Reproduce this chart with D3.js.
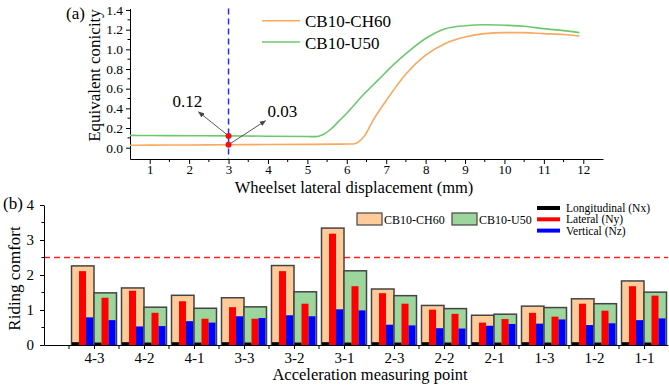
<!DOCTYPE html>
<html>
<head>
<meta charset="utf-8">
<script src="https://cdn.jsdelivr.net/npm/d3@7"></script>
<style>
  body { margin: 0; background: #fff; }
  .axis path, .axis line { stroke: #000; stroke-width: 1; }
  .axis text { fill: #000; }
</style>
</head>
<body>
<svg id="chart" width="669" height="386"></svg>
<script>
// ---------- Data (a) ----------
const ch60X = [0.5, 1, 2, 3, 4, 5, 5.8, 6.1, 6.2, 6.3, 6.45, 6.67, 7.0, 7.5, 8.0, 8.5, 9.0, 9.5, 10.0, 10.5, 11.0, 11.5, 11.9];
const ch60Y = [0.025, 0.026, 0.028, 0.03, 0.032, 0.034, 0.036, 0.037, 0.04, 0.06, 0.12, 0.28, 0.48, 0.75, 0.94, 1.06, 1.125, 1.16, 1.17, 1.17, 1.16, 1.15, 1.135];
const u50X = [0.5, 1, 2, 3, 4, 5, 5.2, 5.4, 5.6, 5.8, 6.0, 6.4, 6.8, 7.2, 7.6, 8.0, 8.5, 9.0, 9.5, 10.0, 10.5, 11.0, 11.5, 11.9];
const u50Y = [0.125, 0.124, 0.122, 0.12, 0.117, 0.113, 0.112, 0.135, 0.19, 0.27, 0.35, 0.53, 0.69, 0.85, 0.99, 1.11, 1.21, 1.24, 1.25, 1.245, 1.235, 1.21, 1.19, 1.17];
const topSeriesNames = ["CB10-CH60", "CB10-U50"];
const markX = 3;
const markValues = [0.12, 0.03];
const topXTicks = [1,2,3,4,5,6,7,8,9,10,11,12];
const topYTicks = [0.0,0.2,0.4,0.6,0.8,1.0,1.2,1.4];

// ---------- Data (b) ----------
const points = ["4-3","4-2","4-1","3-3","3-2","3-1","2-3","2-2","2-1","1-3","1-2","1-1"];
const ch60Total = [2.26, 1.63, 1.42, 1.35, 2.27, 3.34, 1.60, 1.13, 0.85, 1.11, 1.32, 1.83];
const ch60Nx    = [0.08, 0.08, 0.08, 0.08, 0.08, 0.08, 0.08, 0.08, 0.08, 0.08, 0.08, 0.08];
const ch60Ny    = [2.11, 1.55, 1.25, 1.08, 2.11, 3.18, 1.48, 1.01, 0.64, 0.92, 1.18, 1.68];
const ch60Nz    = [0.79, 0.53, 0.68, 0.82, 0.85, 1.02, 0.58, 0.48, 0.55, 0.61, 0.57, 0.71];
const u50Total  = [1.49, 1.08, 1.05, 1.09, 1.52, 2.12, 1.41, 1.04, 0.88, 1.07, 1.18, 1.51];
const u50Nx     = [0.07, 0.07, 0.07, 0.07, 0.07, 0.07, 0.07, 0.07, 0.07, 0.07, 0.07, 0.07];
const u50Ny     = [1.35, 0.92, 0.75, 0.75, 1.18, 1.68, 1.18, 0.89, 0.74, 0.81, 0.98, 1.41];
const u50Nz     = [0.71, 0.54, 0.64, 0.77, 0.82, 0.99, 0.56, 0.47, 0.60, 0.73, 0.62, 0.76];
const limitValue = 2.5;
const bottomYTicks = [0,1,2,3,4];
const dirNames = ["Longitudinal (Nx)", "Lateral (Ny)", "Vertical (Nz)"];

// ---------- Styles ----------
const FONT = "'Liberation Serif', 'Times New Roman', Times, 'DejaVu Serif', serif";
const orangeLine = "#F9A85E", greenLine = "#6DC86D";
const orangeFill = "#FFCC99", greenFill = "#9DD69D";
const dirColors = ["#000000", "#FF0000", "#0000FF"];

const svg = d3.select("#chart");

// ================= (a) =================
const xT = d3.scaleLinear().domain([0.5, 12.5]).range([130, 603]);
const yT = d3.scaleLinear().domain([-0.115, 1.415]).range([159, 8.5]);

const gxT = svg.append("g").attr("class","axis").attr("transform","translate(0,159)")
  .call(d3.axisBottom(xT).tickValues(topXTicks).tickSize(5).tickSizeOuter(0).tickPadding(1).tickFormat(d3.format("d")));
gxT.selectAll("text").style("font-size","13px");
gxT.selectAll(".minor").data(d3.range(1.5, 12.5, 1)).enter().append("line")
  .attr("x1", d => xT(d)).attr("x2", d => xT(d)).attr("y1", 0).attr("y2", 3).attr("stroke","#000");

const gyT = svg.append("g").attr("class","axis").attr("transform","translate(130,0)")
  .call(d3.axisLeft(yT).tickValues(topYTicks).tickSize(4).tickSizeOuter(0).tickPadding(3).tickFormat(d3.format(".1f")));
gyT.selectAll("text").style("font-size","13.5px");
gyT.selectAll(".minor").data(d3.range(0.1, 1.4, 0.2)).enter().append("line")
  .attr("x1", -2.5).attr("x2", 0).attr("y1", d => yT(d)).attr("y2", d => yT(d)).attr("stroke","#000");

const lineT = d3.line().x(d => xT(d[0])).y(d => yT(d[1])).curve(d3.curveMonotoneX);
svg.append("path").datum(ch60X.map((x,i)=>[x, ch60Y[i]])).attr("d", lineT)
  .attr("fill","none").attr("stroke", orangeLine).attr("stroke-width", 1.6);
svg.append("path").datum(u50X.map((x,i)=>[x, u50Y[i]])).attr("d", lineT)
  .attr("fill","none").attr("stroke", greenLine).attr("stroke-width", 1.6);

// vertical dashed line
svg.append("line").attr("x1", xT(markX)).attr("x2", xT(markX))
  .attr("y1", yT(1.415)).attr("y2", yT(-0.115))
  .attr("stroke", "#2A2AF0").attr("stroke-width", 1.5).attr("stroke-dasharray", "6,4");

// arrows
const defs = svg.append("defs");
defs.append("marker").attr("id","arr").attr("viewBox","0 0 10 10").attr("refX",9).attr("refY",5)
  .attr("markerWidth",7).attr("markerHeight",7).attr("orient","auto")
  .append("path").attr("d","M0,1 L10,5 L0,9 Z").attr("fill","#444");

const annOffsets = [[-30, -24], [37, -24]];
const annText = [[-56, -29], [39, -28]];
markValues.forEach((v, i) => {
  const px = xT(markX), py = yT(v);
  svg.append("line").attr("x1", px).attr("y1", py)
    .attr("x2", px + annOffsets[i][0]).attr("y2", py + annOffsets[i][1])
    .attr("stroke", "#444").attr("stroke-width", 0.9).attr("marker-end", "url(#arr)");
  svg.append("text").attr("x", px + annText[i][0]).attr("y", py + annText[i][1])
    .style("font-size","17px").text(d3.format(".2f")(v));
});
svg.selectAll(".pt").data(markValues).enter().append("circle")
  .attr("cx", xT(markX)).attr("cy", d => yT(d)).attr("r", 3).attr("fill", "#F01010");

// legend (a)
[[orangeLine, 20.7], [greenLine, 42]].forEach((c, i) => {
  svg.append("line").attr("x1", 262).attr("x2", 300).attr("y1", c[1]).attr("y2", c[1])
    .attr("stroke", c[0]).attr("stroke-width", 1.6);
  svg.append("text").attr("x", 305).attr("y", c[1] + 6.5).style("font-size","17px").text(topSeriesNames[i]);
});

svg.append("text").attr("transform","translate(99.5,75.5) rotate(-90)").attr("text-anchor","middle")
  .style("font-size","17px").text("Equivalent conicity");
svg.append("text").attr("x", 354).attr("y", 192.5).attr("text-anchor","middle")
  .style("font-size","16.5px").text("Wheelset lateral displacement (mm)");
svg.append("text").attr("x", 66).attr("y", 19).style("font-size","17px").text("(a)");

// ================= (b) =================
const xB = d3.scaleLinear().domain([-1, 11.48]).range([44, 668]);
const yB = d3.scaleLinear().domain([0, 4]).range([345, 205]);

// limit line
svg.append("line").attr("x1", xB(-1)).attr("x2", xB(11.48)).attr("y1", yB(limitValue)).attr("y2", yB(limitValue))
  .attr("stroke", "#FF2020").attr("stroke-width", 1.3).attr("stroke-dasharray", "6,4");

const groups = [
  {off: -0.45, fill: orangeFill, total: ch60Total, parts: [ch60Nx, ch60Ny, ch60Nz]},
  {off: 0, fill: greenFill, total: u50Total, parts: [u50Nx, u50Ny, u50Nz]}
];
const bw = 0.45, iw = 0.14, ioff = 0.01;
groups.forEach(g => {
  svg.append("g").selectAll("rect").data(points.map((p,i)=>i)).enter().append("rect")
    .attr("x", i => xB(i + g.off)).attr("width", xB(bw) - xB(0))
    .attr("y", i => yB(g.total[i])).attr("height", i => yB(0) - yB(g.total[i]))
    .attr("fill", g.fill).attr("stroke", "#444").attr("stroke-width", 1.5);
  g.parts.forEach((vals, k) => {
    svg.append("g").selectAll("rect").data(points.map((p,i)=>i)).enter().append("rect")
      .attr("x", i => xB(i + g.off + ioff + k*iw)).attr("width", xB(iw) - xB(0))
      .attr("y", i => yB(vals[i])).attr("height", i => yB(0) - yB(vals[i]))
      .attr("fill", dirColors[k]);
  });
});

const gxB = svg.append("g").attr("class","axis").attr("transform","translate(0,345)")
  .call(d3.axisBottom(xB).tickValues(d3.range(0, 12)).tickSize(4).tickSizeOuter(0).tickPadding(3)
    .tickFormat(i => points[i]));
gxB.selectAll("text").style("font-size","15px");
gxB.selectAll(".minor").data(d3.range(-0.5, 11.5, 1)).enter().append("line")
  .attr("x1", d => xB(d)).attr("x2", d => xB(d)).attr("y1", 0).attr("y2", 4).attr("stroke","#000");

const gyB = svg.append("g").attr("class","axis").attr("transform","translate(44,0)")
  .call(d3.axisLeft(yB).tickValues(bottomYTicks).tickSize(4).tickSizeOuter(0).tickPadding(6).tickFormat(d3.format("d")));
gyB.selectAll("text").style("font-size","15px");
gyB.selectAll(".minor").data([0.5,1.5,2.5,3.5]).enter().append("line")
  .attr("x1", -2.5).attr("x2", 0).attr("y1", d => yB(d)).attr("y2", d => yB(d)).attr("stroke","#000");

// legend (b)
[[orangeFill, 357, 384, 0], [greenFill, 452, 479, 1]].forEach(c => {
  svg.append("rect").attr("x", c[1]).attr("y", 213).attr("width", 25).attr("height", 12)
    .attr("fill", c[0]).attr("stroke", "#444").attr("stroke-width", 1.2);
  svg.append("text").attr("x", c[2]).attr("y", 223.5).style("font-size","12px").text(topSeriesNames[c[3]]);
});
dirNames.forEach((n, k) => {
  const yy = 208 + k * 11.3;
  svg.append("line").attr("x1", 537).attr("x2", 560).attr("y1", yy).attr("y2", yy)
    .attr("stroke", dirColors[k]).attr("stroke-width", 4);
  svg.append("text").attr("x", 566).attr("y", yy + 4).style("font-size","11.5px").text(n);
});

svg.append("text").attr("transform","translate(20,278.5) rotate(-90)").attr("text-anchor","middle")
  .style("font-size","17px").text("Riding comfort");
svg.append("text").attr("x", 370).attr("y", 380).attr("text-anchor","middle")
  .style("font-size","16.5px").text("Acceleration measuring point");
svg.append("text").attr("x", 3).attr("y", 209).style("font-size","17px").text("(b)");

// apply serif font everywhere
svg.selectAll("g.axis").attr("font-family", null);
svg.selectAll("text").style("font-family", FONT).attr("fill", "#000");
</script>
</body>
</html>
